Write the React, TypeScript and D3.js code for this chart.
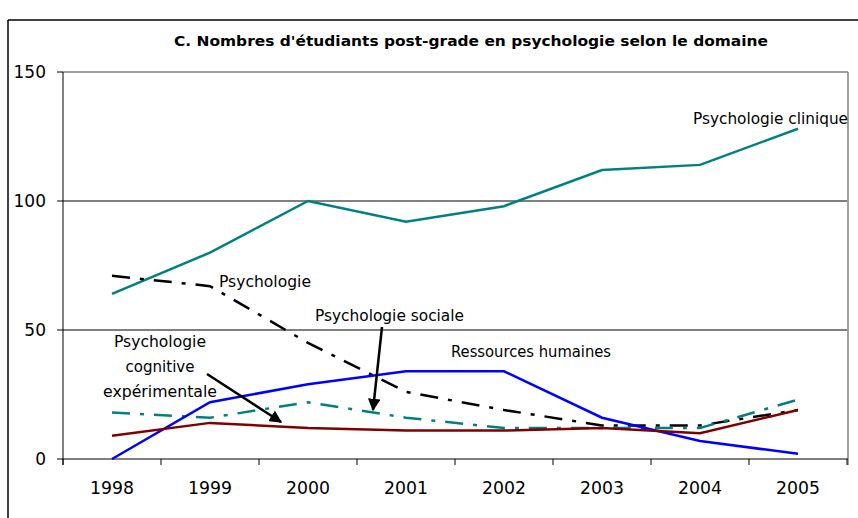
import React from "react";
import * as d3 from "d3";

const years = ["1998", "1999", "2000", "2001", "2002", "2003", "2004", "2005"];
const clinique = [64, 80, 100, 92, 98, 112, 114, 128];
const psychologie = [71, 67, 45, 26, 19, 13, 13, 19];
const sociale = [18, 16, 22, 16, 12, 12, 12, 23];
const ressources = [0, 22, 29, 34, 34, 16, 7, 2];
const cognitive = [9, 14, 12, 11, 11, 12, 10, 19];
const yTicks = [0, 50, 100, 150];

const title = "C. Nombres d'étudiants post-grade en psychologie selon le domaine";

const FONT = "'DejaVu Sans', sans-serif";

export default function App() {
  const W = 858, H = 518;
  const left = 63, right = 847, top = 72, bottom = 459;
  const x = d3.scaleBand().domain(years).range([left, right]);
  const y = d3.scaleLinear().domain([0, 150]).range([bottom, top]);
  const cx = (yr: string) => (x(yr) as number) + x.bandwidth() / 2;
  const line = (vals: number[]) =>
    d3.line<number>().x((_, i) => cx(years[i])).y((v) => y(v))(vals) as string;

  const series = [
    { vals: clinique, color: "#008080", dash: undefined },
    { vals: psychologie, color: "#000000", dash: "18 10 4 10" },
    { vals: sociale, color: "#008080", dash: "18 10 4 10" },
    { vals: ressources, color: "#0000FF", dash: undefined },
    { vals: cognitive, color: "#800000", dash: undefined },
  ];

  const boundaries = d3.range(years.length + 1).map((i) => left + i * x.bandwidth());

  return (
    <svg
      width={W}
      height={H}
      style={{ position: "absolute", left: 0, top: 0, background: "#fff" }}
      fontFamily={FONT}
    >
      <defs>
        <marker id="arr" viewBox="0 0 10 10" refX="9" refY="5" markerWidth="5" markerHeight="5" orient="auto">
          <path d="M0,0 L10,5 L0,10 z" fill="#000" />
        </marker>
      </defs>
      <rect x={0} y={0} width={W} height={H} fill="#fff" />
      {/* outer chart border */}
      <line x1={8} y1={20} x2={W} y2={20} stroke="#000" strokeWidth={1.5} />
      <line x1={8} y1={20} x2={8} y2={H} stroke="#000" strokeWidth={1.5} />

      <text x={471} y={46} textAnchor="middle" fontSize={14} fontWeight="bold" textLength={594} lengthAdjust="spacingAndGlyphs">
        {title}
      </text>

      {/* gridlines */}
      {yTicks.filter((t) => t > 0 && t < 150).map((t) => (
        <line key={t} x1={left} x2={right} y1={y(t)} y2={y(t)} stroke="#000" strokeWidth={1} />
      ))}
      {/* plot area border top/right */}
      <line x1={left} x2={right + 1} y1={y(150)} y2={y(150)} stroke="#808080" strokeWidth={1.5} />
      <line x1={right + 1} x2={right + 1} y1={y(150)} y2={bottom + 6} stroke="#808080" strokeWidth={1.5} />

      {/* axes */}
      <line x1={left} x2={left} y1={top} y2={bottom + 6} stroke="#000" strokeWidth={1} />
      <line x1={left} x2={right + 1} y1={bottom} y2={bottom} stroke="#000" strokeWidth={1} />
      {yTicks.map((t) => (
        <g key={t}>
          <line x1={left - 6} x2={left} y1={y(t)} y2={y(t)} stroke="#000" />
          <text x={46} y={y(t) + 6} textAnchor="end" fontSize={17}>
            {t}
          </text>
        </g>
      ))}
      {boundaries.map((b, i) => (
        <line key={i} x1={b} x2={b} y1={bottom} y2={bottom + 6} stroke="#000" />
      ))}
      {years.map((yr) => (
        <text key={yr} x={cx(yr)} y={494} textAnchor="middle" fontSize={17} textLength={44} lengthAdjust="spacingAndGlyphs">
          {yr}
        </text>
      ))}

      {/* series */}
      {series.map((s, i) => (
        <path
          key={i}
          d={line(s.vals)}
          fill="none"
          stroke={s.color}
          strokeWidth={2.5}
          strokeDasharray={s.dash}
        />
      ))}

      {/* annotations */}
      <g fontSize={16} fill="#000">
        <text x={693} y={124} textLength={155} lengthAdjust="spacingAndGlyphs">Psychologie clinique</text>
        <text x={219} y={287} textLength={92} lengthAdjust="spacingAndGlyphs">Psychologie</text>
        <text x={315} y={321} textLength={149} lengthAdjust="spacingAndGlyphs">Psychologie sociale</text>
        <text x={451} y={357} textLength={160} lengthAdjust="spacingAndGlyphs">Ressources humaines</text>
        <text x={160} y={347} textAnchor="middle" textLength={92} lengthAdjust="spacingAndGlyphs">Psychologie</text>
        <text x={160} y={372} textAnchor="middle" textLength={69} lengthAdjust="spacingAndGlyphs">cognitive</text>
        <text x={160} y={397} textAnchor="middle" textLength={114} lengthAdjust="spacingAndGlyphs">expérimentale</text>
      </g>
      <line x1={382} y1={327} x2={373} y2={410} stroke="#000" strokeWidth={2.5} markerEnd="url(#arr)" />
      <line x1={207} y1={374} x2={281} y2={422} stroke="#000" strokeWidth={2.5} markerEnd="url(#arr)" />
    </svg>
  );
}
